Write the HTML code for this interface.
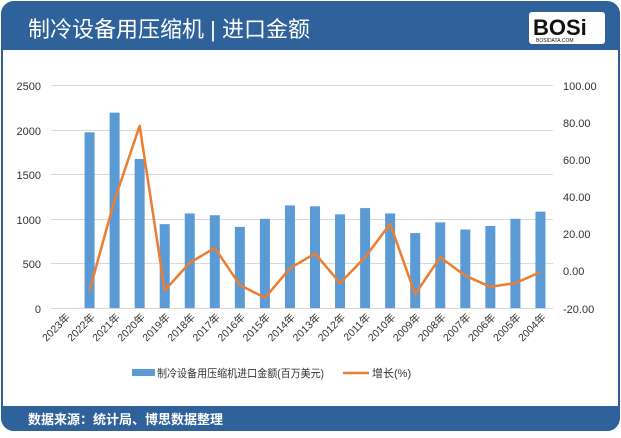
<!DOCTYPE html>
<html><head><meta charset="utf-8"><style>
body{margin:0;width:621px;height:433px;background:#fff;overflow:hidden;font-family:"Liberation Sans","Noto Sans CJK SC",sans-serif}
</style></head><body>
<svg width="621" height="433" xmlns="http://www.w3.org/2000/svg" font-family="Liberation Sans, Noto Sans CJK SC, sans-serif">
<rect x="2" y="2" width="617" height="428" rx="12" fill="#fff" stroke="#2f5f93" stroke-width="2"/>
<path d="M2 50 V14 A12 12 0 0 1 14 2 H607 A12 12 0 0 1 619 14 V50 Z" fill="#2f629a"/>
<text x="28" y="37" fill="#fff" font-size="22">制冷设备用压缩机 | 进口金额</text>
<rect x="529" y="12" width="76" height="32" rx="3" fill="#fff"/>
<text x="533" y="35" font-size="22" font-weight="bold" fill="#111">BOSi</text>
<text x="536" y="42" font-size="5" fill="#111">BOSIDATA.COM</text>
<path d="M2 406 H619 V418 A12 12 0 0 1 607 430 H14 A12 12 0 0 1 2 418 Z" fill="#2f629a"/>
<text x="28" y="424" fill="#fff" font-size="13" font-weight="bold">数据来源：统计局、博思数据整理</text>
<g stroke="#d9d9d9" stroke-width="1">
<line x1="51" x2="553" y1="85.5" y2="85.5"/><line x1="51" x2="553" y1="130.5" y2="130.5"/><line x1="51" x2="553" y1="174.5" y2="174.5"/><line x1="51" x2="553" y1="219.5" y2="219.5"/><line x1="51" x2="553" y1="263.5" y2="263.5"/><line x1="51" x2="553" y1="308.5" y2="308.5"/>
</g>
<g font-size="11" fill="#333" text-anchor="end">
<text x="41" y="90">2500</text><text x="41" y="135">2000</text><text x="41" y="179">1500</text><text x="41" y="224">1000</text><text x="41" y="268">500</text><text x="41" y="313">0</text>
</g>
<g font-size="11" fill="#333">
<text x="563" y="90">100.00</text><text x="563" y="127">80.00</text><text x="563" y="164">60.00</text><text x="563" y="201">40.00</text><text x="563" y="238">20.00</text><text x="563" y="275">0.00</text><text x="563" y="313">-20.00</text>
</g>
<g fill="#5b9bd5" id="bars"></g>
<polyline id="ln" fill="none" stroke="#ed7d31" stroke-width="2.5" stroke-linejoin="round"/>
<g id="xl" font-size="10.5" fill="#333"></g>
<rect x="132" y="369" width="23" height="7" fill="#5b9bd5"/>
<text x="157" y="377" font-size="11" fill="#333" textLength="167" lengthAdjust="spacingAndGlyphs">制冷设备用压缩机进口金额(百万美元)</text>
<line x1="343" x2="369" y1="373" y2="373" stroke="#ed7d31" stroke-width="2.5"/>
<text x="372" y="377" font-size="11" fill="#333">增长(%)</text>
</svg>
<script>
var years=[2023,2022,2021,2020,2019,2018,2017,2016,2015,2014,2013,2012,2011,2010,2009,2008,2007,2006,2005,2004];
var v=[0,1970,2190,1670,940,1060,1040,910,1000,1150,1140,1050,1120,1060,840,960,880,920,1000,1080];
var g=[null,-10,39,79,-10,5,13,-7,-14,2,10,-6,8,26,-12,8,-2,-8,-6,0];
var ns="http://www.w3.org/2000/svg",b=document.getElementById('bars'),xl=document.getElementById('xl'),pts=[];
for(var i=0;i<20;i++){var cx=64.5+i*25.05;
 if(v[i]>0){var h=v[i]/500*44.6;var r=document.createElementNS(ns,'rect');r.setAttribute('x',cx-5);r.setAttribute('y',308-h);r.setAttribute('width',10);r.setAttribute('height',h);b.appendChild(r);}
 if(g[i]!==null)pts.push(cx+','+(87+(100-g[i])*1.85));
 var t=document.createElementNS(ns,'text');t.setAttribute('transform','translate('+(cx+6)+',318) rotate(-45)');t.setAttribute('text-anchor','end');t.textContent=years[i]+'年';xl.appendChild(t);}
document.getElementById('ln').setAttribute('points',pts.join(' '));
</script>
</body></html>
